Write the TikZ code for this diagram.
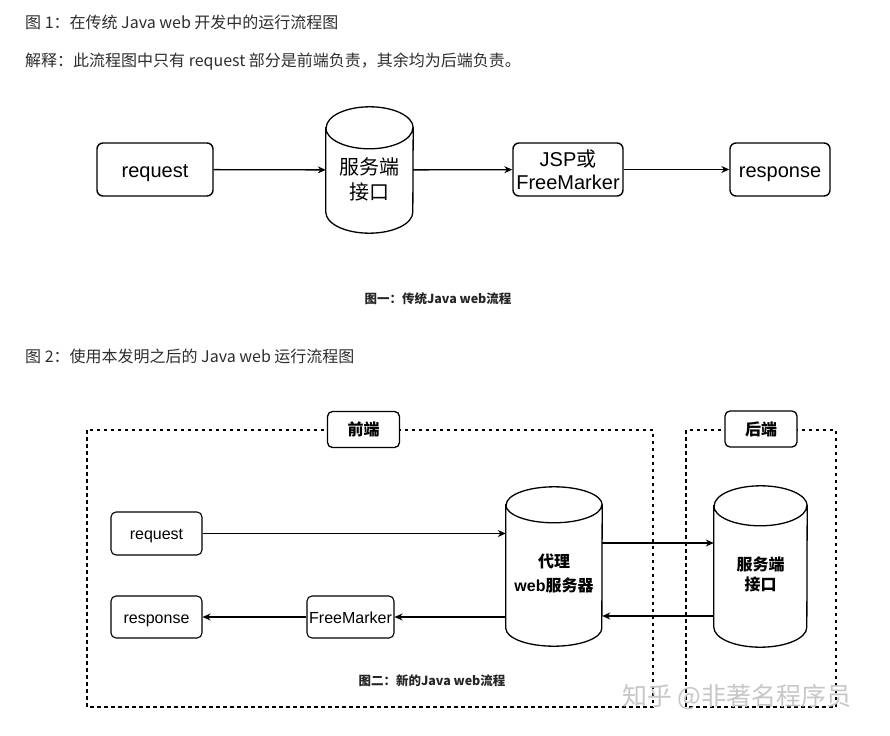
\documentclass[tikz,border=0pt]{standalone}
\usepackage{fontspec}
\setmainfont{Noto Sans CJK SC}
\newfontfamily\cjk{Noto Sans CJK SC}
\newfontfamily\arial{Liberation Sans}
\usetikzlibrary{arrows.meta}
\newcommand\cylpath[3]{%
  \draw[cylline] ([yshift=-#3]#1.north west) -- ([yshift=#3]#1.south west)
    arc[start angle=180,end angle=360,x radius=#2,y radius=#3]
    -- ([yshift=-#3]#1.north east)
    arc[start angle=0,end angle=180,x radius=#2,y radius=#3] -- cycle
    ([yshift=-#3]#1.north west) arc[start angle=180,end angle=360,x radius=#2,y radius=#3];}
\begin{document}
\begin{tikzpicture}[x=1pt,y=-1pt,
  rbox/.style={draw=black, line width=1.4pt, rounded corners=6pt, inner sep=0pt, align=center,
    font=\arial\fontsize{20}{23}\selectfont},
  sbox/.style={draw=black, line width=1.1pt, rounded corners=5pt, inner sep=0pt, align=center,
    font=\arial\fontsize{16}{19}\selectfont},
  onebig/.style={text height=17.5pt, text depth=2pt},
  onesmall/.style={text height=14pt, text depth=1.6pt},
  cylnode/.style={inner sep=0pt, align=center},
  cylline/.style={line width=1.3pt},
  arr/.style={-{Stealth[length=8pt,width=7pt]}, line width=1.3pt},
  dbox/.style={draw, dash pattern=on 3.5pt off 3.5pt, line width=1.3pt},
  lbox/.style={draw=black, fill=white, line width=1.3pt, rounded corners=5pt, inner sep=0pt,
    minimum width=72pt, minimum height=36pt, font=\cjk\bfseries\fontsize{16}{19}\selectfont},
  title/.style={anchor=west, inner sep=0pt, text=black!82, font=\fontsize{16}{18}\selectfont},
  caption/.style={inner sep=0pt, text=black!85, font=\bfseries\fontsize{12.5}{15}\selectfont}
]
\useasboundingbox (0,0) rectangle (890,735);
\fill[white] (0,0) rectangle (890,735);

% ---- texts ----
\node[title] (t1) at (25,22) {图 1：在传统 Java web 开发中的运行流程图};
\node[title] (t2) at (25,62) {解释：此流程图中只有 request 部分是前端负责，其余均为后端负责。};
\node[title] (t3) at (25,356) {图 2：使用本发明之后的 Java web 运行流程图};

% ---- diagram 1 ----
\node[rbox, onebig, minimum width=116pt, minimum height=53pt] (req1) at (155,169.5) {request};
\node[cylnode, minimum width=87pt, minimum height=126pt, font=\cjk\fontsize{20}{25}\selectfont] (c1) at (369.5,170)
  {\raisebox{-17.5pt}[0pt][0pt]{\begin{tabular}{@{}c@{}}服务端\\接口\end{tabular}}};
\cylpath{c1}{43.5pt}{21pt}
\node[rbox, minimum width=110pt, minimum height=53pt] (jsp) at (568,169.5) {JSP{\cjk 或}\\FreeMarker};
\node[rbox, onebig, minimum width=100pt, minimum height=53pt] (resp1) at (780,169.5) {response};
\draw[arr] (req1) -- (c1);
\draw[arr] (c1) -- (jsp);
\draw[arr] (jsp) -- (resp1);
\node[caption] (cap1) at (438,299) {图一：传统Java web流程};

% ---- diagram 2 ----
\draw[dbox] (87,430) rectangle (653,707);
\draw[dbox] (686,430) rectangle (836,707);
\node[lbox] (fe) at (363.5,429.5) {前端};
\node[lbox] (be) at (761,429) {后端};

\node[sbox, onesmall, minimum width=91pt, minimum height=43pt] (req2) at (156.5,533.5) {request};
\node[sbox, onesmall, minimum width=91pt, minimum height=42pt] (resp2) at (156.5,617) {response};
\node[sbox, onesmall, minimum width=87pt, minimum height=42pt] (fm) at (350.5,617) {FreeMarker};
\node[cylnode, minimum width=96pt, minimum height=159pt, font=\fontsize{16}{19}\selectfont] (proxy) at (554,566.5)
  {\raisebox{-13.5pt}[0pt][0pt]{\begin{tabular}{@{}c@{}}{\cjk\bfseries 代理}\\[4pt]{\arial\bfseries web}{\cjk\bfseries 服务器}\end{tabular}}};
\cylpath{proxy}{48pt}{18pt}
\node[cylnode, minimum width=93pt, minimum height=161pt, font=\cjk\bfseries\fontsize{16}{20}\selectfont] (srv) at (760.5,566.5)
  {\raisebox{-14.5pt}[0pt][0pt]{\begin{tabular}{@{}c@{}}服务端\\接口\end{tabular}}};
\cylpath{srv}{46.5pt}{20pt}

\draw[arr, line width=1.1pt] (req2.east) -- (req2.east -| proxy.west);
\draw[arr, line width=1.1pt] ([yshift=23.5pt]proxy.east) -- ([yshift=23.5pt]srv.west);
\draw[arr, line width=1.1pt] ([yshift=-49.5pt]srv.west) -- ([yshift=-49.5pt]proxy.east);
\draw[arr, line width=1.1pt] (proxy.west |- fm.east) -- (fm.east);
\draw[arr, line width=1.1pt] (fm) -- (resp2);
\node[caption] (cap2) at (432,681) {图二：新的Java web流程};

% watermark
\node[anchor=west, inner sep=0pt, text=black!22, font=\cjk\fontsize{25}{28}\selectfont] (wm) at (622,697) {知乎 @非著名程序员};
\end{tikzpicture}
\end{document}
